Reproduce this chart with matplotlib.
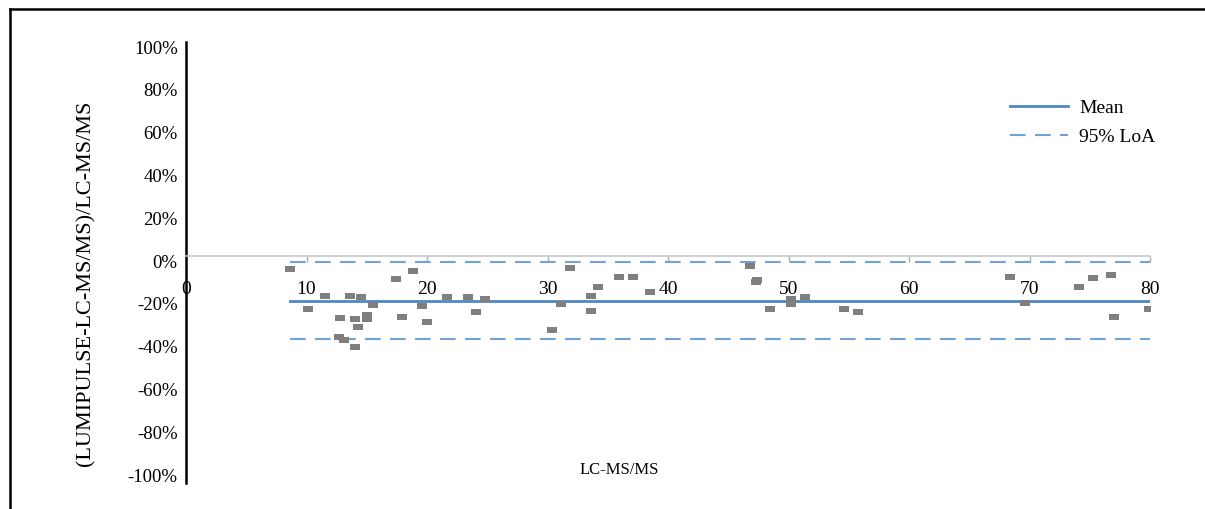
import numpy as np
import matplotlib
matplotlib.use("Agg")
import matplotlib.pyplot as plt
import matplotlib.transforms as mtransforms
from matplotlib.lines import Line2D

plt.rcParams['font.family'] = ['Liberation Serif', 'DejaVu Serif']

# LC-MS/MS concentration vs relative difference (%)
lcms = [8.6, 10.1, 11.5, 12.8, 12.7, 13.1, 13.6, 14.0, 14.3, 14.0, 14.5, 15.0, 15.0,
        15.5, 17.4, 17.9, 18.8, 19.6, 20.0, 21.7, 23.4, 24.1, 24.8,
        31.9, 31.1, 30.4, 33.6, 33.6, 34.2, 35.9, 37.1, 38.5,
        46.8, 47.3, 47.4, 48.5, 50.2, 50.2, 51.4, 54.6, 55.8,
        68.4, 69.6, 74.1, 75.3, 76.8, 77.0, 79.9]
rel_diff = [-5.9, -24.9, -18.7, -28.8, -38.0, -39.3, -18.7, -29.6, -33.3, -42.4, -19.3, -27.4, -29.3,
            -23.0, -10.9, -28.4, -7.0, -23.4, -31.0, -19.0, -19.3, -26.3, -19.9,
            -5.5, -22.4, -34.7, -18.7, -25.5, -14.5, -9.8, -9.7, -17.0,
            -4.8, -12.1, -11.2, -24.6, -19.9, -22.4, -19.3, -24.9, -26.2,
            -9.7, -22.0, -14.3, -10.4, -8.9, -28.4, -24.8]

mean_bias = -20.8
loa_upper = -2.8
loa_lower = -38.8

x_ticks = [0, 10, 20, 30, 40, 50, 60, 70, 80]
y_ticks = [-100, -80, -60, -40, -20, 0, 20, 40, 60, 80, 100]

W, H = 1205, 509
fig = plt.figure(figsize=(W / 100, H / 100), dpi=100)
ax = fig.add_axes([186 / W, 1 - 483 / H, (1150 - 186) / W, (483 - 42) / H])

# excel-style flat dash marker
dash = [(-1, -0.55), (1, -0.55), (1, 0.55), (-1, 0.55)]
ax.plot(lcms, rel_diff, linestyle='none', marker=dash, markersize=7,
        color='#7f7f7f', markeredgewidth=0, zorder=3)

x0, x1 = min(lcms), 80
ax.plot([x0, x1], [mean_bias, mean_bias], color='#4f87c6', lw=2.0, label='Mean', zorder=2)
ax.plot([x0, x1], [loa_upper, loa_upper], color='#6ea2d8', lw=1.5,
        dashes=(7.5, 4.5), label='95% LoA', zorder=2)
ax.plot([x0, x1], [loa_lower, loa_lower], color='#6ea2d8', lw=1.5,
        dashes=(7.5, 4.5), zorder=2)

ax.set_xlim(0, 80)
ax.set_ylim(-106, 100)
ax.set_xticks(x_ticks)
ax.set_yticks(y_ticks)
ax.set_yticklabels([f'{v}%' for v in y_ticks])

for s in ['top', 'right']:
    ax.spines[s].set_visible(False)
ax.spines['bottom'].set_position(('data', 0))
ax.spines['bottom'].set_color('#c8c8c8')
ax.spines['bottom'].set_linewidth(1.2)
ax.spines['left'].set_color('black')
ax.spines['left'].set_linewidth(1.8)

ax.tick_params(axis='x', direction='out', length=4, color='#b0b0b0', width=1,
               pad=14, labelsize=14)
ax.tick_params(axis='y', length=0, pad=6, labelsize=13.5)

# nudge the percent labels slightly down
offset = mtransforms.ScaledTranslation(0, -5 / 100, fig.dpi_scale_trans)
for lab in ax.get_yticklabels():
    lab.set_transform(lab.get_transform() + offset)

ax.set_ylabel('(LUMIPULSE-LC-MS/MS)/LC-MS/MS', fontsize=16)
ax.yaxis.set_label_coords((95 - 186) / 964, (483 - 283) / 441)
fig.text(619 / W, 1 - 470 / H, 'LC-MS/MS', ha='center', va='center', fontsize=12)

fig.legend(loc='upper left', bbox_to_anchor=(1010 / W, 1 - 99 / H), frameon=False,
           fontsize=14, handlelength=3.0, handletextpad=0.55, labelspacing=0.58,
           borderpad=0, borderaxespad=0)

# outer frame (top and left edges)
fig.add_artist(Line2D([10 / W, 1], [1 - 9 / H, 1 - 9 / H], color='black', lw=1.8,
                      transform=fig.transFigure))
fig.add_artist(Line2D([10 / W, 10 / W], [0, 1 - 9 / H], color='black', lw=1.8,
                      transform=fig.transFigure))

fig.savefig('out.png', dpi=100)
